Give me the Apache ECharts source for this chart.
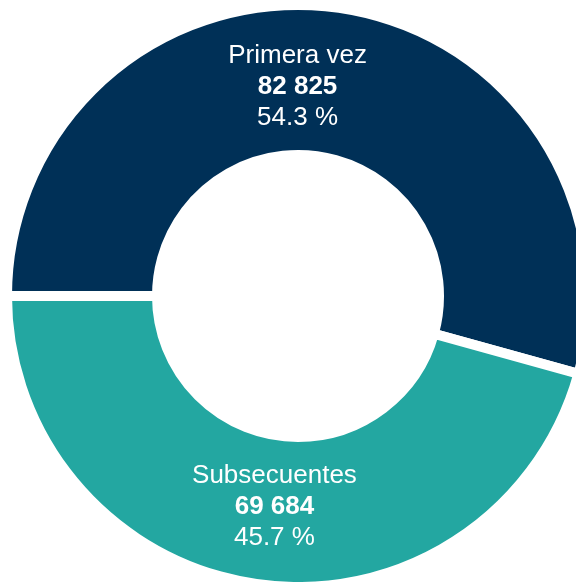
<!DOCTYPE html>
<html>
<head>
<meta charset="utf-8">
<script src="https://cdn.jsdelivr.net/npm/echarts@6/dist/echarts.min.js"></script>
<style>
  html, body { margin: 0; padding: 0; background: #fff; }
  #chart { width: 576px; height: 582px; }
</style>
</head>
<body>
<div id="chart"></div>
<script>
// datos de consultas
const categories = ['Primera vez', 'Subsecuentes']
const values = [82825, 69684]
const colors = ['#003057', '#23A7A1']
const labelOffsets = [[-30, 8], [6, -6]]

const fmt = n => String(n).replace(/\B(?=(\d{3})+(?!\d))/g, ' ')
const font = 'Liberation Sans, Arial, sans-serif'

const chart = echarts.init(document.getElementById('chart'), null, { renderer: 'canvas' })

chart.setOption({
  animation: false,
  series: [{
    type: 'pie',
    center: [298, 296],
    radius: [141, 291],
    startAngle: 180,
    clockwise: true,
    percentPrecision: 1,
    emphasis: { disabled: true },
    itemStyle: { borderColor: '#fff', borderWidth: 10 },
    label: {
      show: true,
      position: 'inside',
      color: '#fff',
      fontFamily: font,
      formatter: p => `{n|${p.name}}\n{v|${fmt(p.value)}}\n{p|${p.percent.toFixed(1)} %}`,
      rich: {
        n: { fontSize: 26, lineHeight: 31, color: '#fff', fontFamily: font },
        v: { fontSize: 26, lineHeight: 31, fontWeight: 'bold', color: '#fff', fontFamily: font },
        p: { fontSize: 26, lineHeight: 31, color: '#fff', fontFamily: font }
      }
    },
    labelLine: { show: false },
    data: categories.map((c, i) => ({
      name: c,
      value: values[i],
      itemStyle: { color: colors[i] },
      label: { offset: labelOffsets[i] }
    }))
  }]
})
</script>
</body>
</html>
